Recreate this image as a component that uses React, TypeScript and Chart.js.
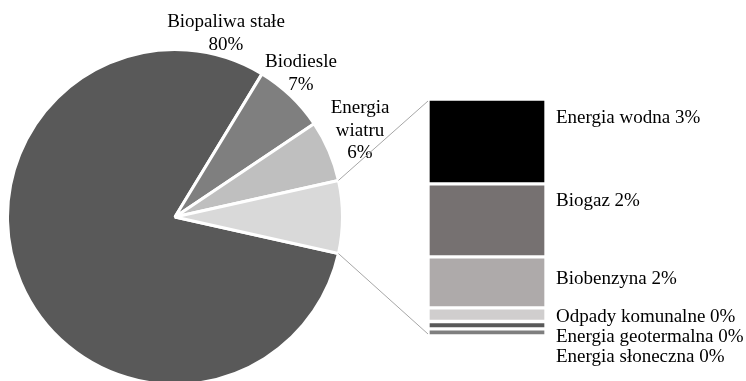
import React, { useEffect, useRef } from "react";
import { Chart, registerables } from "chart.js";

Chart.register(...registerables);

// Main pie: shares in percent
const pieCategories = ["Biopaliwa stałe", "Biodiesle", "Energia wiatru"];
const pieValues = [80.2, 6.9, 5.9];
const pieColors = ["#595959", "#7f7f7f", "#bfbfbf"];
const otherLabel = "Pozostałe";
const otherColor = "#d9d9d9";

// Breakdown of the remaining slice, shown as a stacked bar
const barCategories = [
  "Energia wodna",
  "Biogaz",
  "Biobenzyna",
  "Odpady komunalne",
  "Energia geotermalna",
  "Energia słoneczna",
];
const barValues = [2.51, 2.16, 1.51, 0.4, 0.22, 0.21];
const barColors = ["#000000", "#767171", "#aeaaaa", "#d0cece", "#595959", "#7f7f7f"];

// Text placement
const pieLabelLayout = [
  { dx: 51, dy: -190, wrap: false },
  { dx: 126, dy: -150, wrap: false },
  { dx: 185, dy: -104, wrap: true },
];
const barLabelShift = [-18.5, -14.5, 1.5, 7, 17, 29.5];

const W = 746;
const H = 381;
const FONT = '19px "Liberation Serif", "Times New Roman", serif';
const LINE = 22.5;
const BAR_BORDER = 2;

const otherTotal = barValues.reduce((a, b) => a + b, 0);
const pieTotal = pieValues.reduce((a, b) => a + b, 0) + otherTotal;
// centre the "other" slice on the right-hand side
const otherFraction = otherTotal / pieTotal;
const pieRotation = otherFraction * 180 - 270;

const pieLabelsPlugin = {
  id: "pieLabels",
  afterDatasetsDraw(chart: any) {
    const ctx = chart.ctx as CanvasRenderingContext2D;
    const arcs = chart.getDatasetMeta(0).data;
    ctx.save();
    ctx.font = FONT;
    ctx.fillStyle = "#000";
    ctx.textAlign = "center";
    ctx.textBaseline = "alphabetic";
    pieLabelLayout.forEach((lay, i) => {
      const arc = arcs[i] as any;
      const name = pieCategories[i];
      const lines = lay.wrap ? name.split(" ") : [name];
      lines.push(`${Math.round(pieValues[i])}%`);
      lines.forEach((t, k) => ctx.fillText(t, arc.x + lay.dx, arc.y + lay.dy + k * LINE));
    });
    ctx.restore();
  },
};

function makeBarSidePlugin(pie: Chart) {
  return {
    id: "barSide",
    afterDatasetsDraw(chart: any) {
      const ctx = chart.ctx as CanvasRenderingContext2D;
      const area = chart.chartArea;
      ctx.save();
      ctx.font = FONT;
      ctx.fillStyle = "#000";
      ctx.textAlign = "left";
      ctx.textBaseline = "alphabetic";
      barValues.forEach((v, i) => {
        const el = chart.getDatasetMeta(i).data[0] as any;
        const mid = (el.y + el.base) / 2;
        ctx.fillText(`${barCategories[i]} ${Math.round(v)}%`, area.right + 10, mid + barLabelShift[i]);
      });

      // connector lines from the "other" slice to the bar
      const arc = pie.getDatasetMeta(0).data[pieValues.length] as any;
      if (arc) {
        const r = arc.outerRadius;
        const x1 = arc.x + r * Math.cos(arc.startAngle);
        const y1 = arc.y + r * Math.sin(arc.startAngle);
        const x2 = arc.x + r * Math.cos(arc.endAngle);
        const y2 = arc.y + r * Math.sin(arc.endAngle);
        ctx.strokeStyle = "#a6a6a6";
        ctx.lineWidth = 1;
        ctx.beginPath();
        ctx.moveTo(x1, y1);
        ctx.lineTo(area.left, area.top + BAR_BORDER);
        ctx.moveTo(x2, y2);
        ctx.lineTo(area.left, area.bottom - BAR_BORDER);
        ctx.stroke();
      }
      ctx.restore();
    },
  };
}

export default function App() {
  const pieRef = useRef<HTMLCanvasElement>(null);
  const barRef = useRef<HTMLCanvasElement>(null);

  useEffect(() => {
    const pie = new Chart(pieRef.current!, {
      type: "pie",
      data: {
        labels: [...pieCategories, otherLabel],
        datasets: [
          {
            data: [...pieValues, otherTotal],
            backgroundColor: [...pieColors, otherColor],
            borderColor: "#ffffff",
            borderWidth: 3,
            radius: 167.5,
            rotation: pieRotation,
          } as any,
        ],
      },
      options: {
        responsive: false,
        animation: false,
        events: [],
        rotation: pieRotation,
        layout: { padding: { left: 0, right: W - 350, top: 53, bottom: 0 } },
        plugins: { legend: { display: false }, tooltip: { enabled: false } },
      } as any,
      plugins: [pieLabelsPlugin],
    });

    const bar = new Chart(barRef.current!, {
      type: "bar",
      data: {
        labels: [""],
        datasets: barValues.map((v, i) => ({
          label: barCategories[i],
          data: [v],
          backgroundColor: barColors[i],
          borderColor: "#ffffff",
          borderWidth: BAR_BORDER,
          borderSkipped: false,
          barPercentage: 1,
          categoryPercentage: 1,
        })),
      },
      options: {
        responsive: false,
        animation: false,
        events: [],
        layout: { padding: { left: 428, right: W - 546, top: 99, bottom: H - 336 } },
        scales: {
          x: { stacked: true, display: false },
          y: { stacked: true, display: false, reverse: true, min: 0, max: otherTotal },
        },
        plugins: { legend: { display: false }, tooltip: { enabled: false } },
      } as any,
      plugins: [makeBarSidePlugin(pie)],
    });

    return () => {
      bar.destroy();
      pie.destroy();
    };
  }, []);

  return (
    <div style={{ position: "absolute", left: 0, top: 0, width: W, height: H, background: "#fff", overflow: "hidden" }}>
      <canvas ref={pieRef} width={W} height={H} style={{ position: "absolute", left: 0, top: 0 }} />
      <canvas ref={barRef} width={W} height={H} style={{ position: "absolute", left: 0, top: 0 }} />
    </div>
  );
}
